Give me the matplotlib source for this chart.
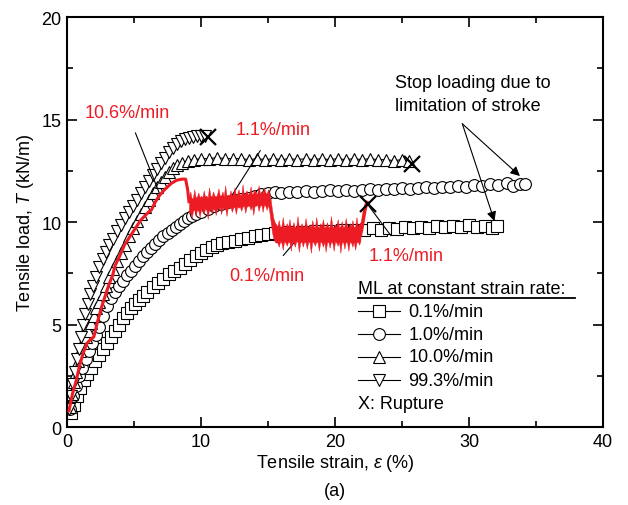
import numpy as np
import matplotlib
matplotlib.use("Agg")
import matplotlib.pyplot as plt
from matplotlib.ticker import MultipleLocator

plt.rcParams['font.family'] = ['Liberation Sans', 'DejaVu Sans']
plt.rcParams['mathtext.fontset'] = 'custom'
plt.rcParams['mathtext.it'] = 'Liberation Sans:italic'
plt.rcParams['mathtext.rm'] = 'Liberation Sans'

RED = '#ED1C24'

# ML at constant strain rate 0.1 %/min (squares)
sq_e = [0.3, 0.5, 0.75, 1.0, 1.25, 1.5, 1.8, 2.1, 2.4, 2.7, 3.0, 3.3, 3.6, 3.9, 4.2, 4.5,
        4.8, 5.1, 5.4, 5.7, 6.0, 6.4, 6.8, 7.2, 7.6, 8.0, 8.4, 8.8, 9.2, 9.6, 10.0, 10.4,
        10.8, 11.2, 11.6, 12.0, 12.5, 13.0, 13.5, 14.0, 14.5, 15.0, 15.5, 16.5, 17.5, 18.5,
        19.5, 20.5, 21.5, 22.2, 22.8, 23.4, 24.0, 24.6, 25.2, 25.8, 26.4, 27.0, 27.6, 28.2,
        28.8, 29.4, 30.0, 30.6, 31.2, 31.7, 32.1]
sq_T = [0.7, 1.1, 1.5, 1.9, 2.3, 2.6, 2.9, 3.2, 3.5, 3.8, 4.1, 4.4, 4.7, 5.0, 5.3, 5.55,
        5.8, 6.0, 6.2, 6.4, 6.6, 6.85, 7.05, 7.25, 7.45, 7.6, 7.75, 7.95, 8.15, 8.35, 8.5, 8.65,
        8.8, 8.9, 9.0, 9.05, 9.1, 9.2, 9.25, 9.3, 9.35, 9.4, 9.45, 9.5, 9.5, 9.55,
        9.55, 9.6, 9.6, 9.6, 9.7, 9.6, 9.7, 9.65, 9.75, 9.7, 9.75, 9.7, 9.8, 9.75,
        9.8, 9.75, 9.85, 9.75, 9.8, 9.7, 9.8]

# 1.0 %/min (circles)
ci_e = [0.25, 0.45, 0.65, 0.9, 1.15, 1.4, 1.65, 1.9, 2.15, 2.4, 2.7, 3.0, 3.3, 3.6, 3.9,
        4.2, 4.5, 4.8, 5.1, 5.4, 5.7, 6.0, 6.3, 6.6, 6.9, 7.2, 7.5, 7.8, 8.1, 8.4, 8.7,
        9.0, 9.3, 9.6, 10.0, 10.5, 11.0, 11.5, 12.0, 12.5, 13.0, 13.5, 14.0, 14.5, 15.0,
        15.5, 16.0, 16.6, 17.2, 17.8, 18.4, 19.0, 19.6, 20.2, 20.8, 21.4, 22.0, 22.6, 23.2,
        23.8, 24.4, 25.0, 25.6, 26.2, 26.8, 27.4, 28.0, 28.6, 29.2, 29.8, 30.4, 31.0, 31.6,
        32.2, 32.8, 33.3, 33.8, 34.2]
ci_T = [0.9, 1.5, 2.0, 2.5, 2.9, 3.3, 3.7, 4.1, 4.5, 4.9, 5.4, 5.9, 6.3, 6.6, 6.9,
        7.15, 7.4, 7.6, 7.85, 8.1, 8.35, 8.55, 8.75, 8.95, 9.15, 9.3, 9.45, 9.6, 9.75, 9.9, 10.05,
        10.2, 10.3, 10.4, 10.5, 10.65, 10.8, 10.9, 11.0, 11.1, 11.15, 11.2, 11.3, 11.35, 11.4,
        11.45, 11.4, 11.45, 11.45, 11.5, 11.45, 11.5, 11.55, 11.5, 11.55, 11.5, 11.55, 11.6, 11.55,
        11.6, 11.6, 11.65, 11.6, 11.65, 11.7, 11.65, 11.7, 11.7, 11.75, 11.7, 11.8, 11.75, 11.85,
        11.8, 11.9, 11.75, 11.85, 11.85]

# 10.0 %/min (up triangles)
tu_e = [0.2, 0.35, 0.5, 0.65, 0.8, 1.0, 1.2, 1.4, 1.6, 1.8, 2.0, 2.2, 2.4, 2.65, 2.9,
        3.15, 3.4, 3.7, 4.0, 4.3, 4.6, 4.9, 5.2, 5.5, 5.8, 6.1, 6.4, 6.7, 7.0, 7.3, 7.6,
        7.9, 8.2, 8.6, 9.0, 9.5, 10.0, 10.6, 11.2, 11.8, 12.4, 13.0, 13.6, 14.2, 14.8, 15.4,
        16.0, 16.6, 17.2, 17.8, 18.4, 19.0, 19.6, 20.2, 20.8, 21.4, 22.0, 22.6, 23.2, 23.8,
        24.4, 25.0, 25.5]
tu_T = [1.0, 1.6, 2.2, 2.7, 3.2, 3.7, 4.1, 4.4, 4.7, 5.1, 5.4, 5.8, 6.1, 6.5, 6.9,
        7.3, 7.7, 8.1, 8.5, 8.9, 9.3, 9.7, 10.05, 10.4, 10.75, 11.1, 11.4, 11.7, 11.95, 12.2, 12.45,
        12.65, 12.8, 12.9, 13.0, 13.05, 13.1, 13.1, 13.15, 13.1, 13.1, 13.1, 13.05, 13.1, 13.05, 13.1,
        13.05, 13.1, 13.05, 13.1, 13.05, 13.1, 13.05, 13.1, 13.05, 13.1, 13.05, 13.1, 13.05, 13.05,
        13.0, 13.05, 13.0]

# 99.3 %/min (down triangles)
td_e = [0.15, 0.3, 0.45, 0.6, 0.75, 0.9, 1.05, 1.2, 1.35, 1.55, 1.75, 1.95, 2.15, 2.4,
        2.65, 2.9, 3.15, 3.4, 3.7, 4.0, 4.3, 4.6, 4.9, 5.2, 5.5, 5.8, 6.1, 6.4, 6.7, 7.0,
        7.3, 7.6, 7.9, 8.2, 8.5, 8.8, 9.1, 9.4, 9.7, 10.0, 10.3]
td_T = [0.9, 1.5, 2.1, 2.7, 3.3, 3.8, 4.4, 5.0, 5.5, 6.0, 6.5, 6.9, 7.3, 7.8,
        8.2, 8.55, 8.9, 9.2, 9.55, 9.85, 10.2, 10.5, 10.8, 11.1, 11.4, 11.7, 12.0, 12.3, 12.6, 12.9,
        13.15, 13.4, 13.6, 13.8, 13.95, 14.05, 14.1, 14.15, 14.2, 14.2, 14.2]

# multi-stage loading (red): smooth parts
red_e1 = [0.15, 0.4, 0.7, 0.9, 1.2, 1.5, 1.8, 2.0, 2.3, 2.6, 2.9, 3.1, 3.4, 3.6, 3.9,
          4.3, 4.7, 5.1, 5.5, 5.8, 6.1, 6.3, 6.6, 6.9, 7.3, 7.8, 8.2, 8.6, 8.85, 9.0, 9.1]
red_T1 = [0.8, 1.6, 2.3, 2.9, 3.6, 4.1, 4.3, 4.4, 5.2, 5.9, 6.5, 6.9, 7.4, 7.9, 8.3,
          8.9, 9.3, 9.7, 10.1, 10.3, 10.5, 10.6, 11.0, 11.3, 11.6, 11.9, 12.05, 12.1, 12.1, 11.6, 11.0]
red_e2 = [21.9, 22.0, 22.1, 22.2, 22.3, 22.4]
red_T2 = [9.4, 9.7, 10.1, 10.5, 10.8, 10.95]

# noisy parts (1.1 %/min then 0.1 %/min stage): envelope of the scatter
band_e = [9.1, 9.2, 9.3, 9.4, 9.5, 9.6, 9.7, 9.8, 9.9, 10.0,
          10.1, 10.2, 10.3, 10.4, 10.5, 10.6, 10.7, 10.8, 10.9, 11.0,
          11.1, 11.2, 11.3, 11.4, 11.5, 11.6, 11.7, 11.8, 11.9, 12.0,
          12.1, 12.2, 12.3, 12.4, 12.5, 12.6, 12.7, 12.8, 12.9, 13.0,
          13.1, 13.2, 13.3, 13.4, 13.5, 13.6, 13.7, 13.8, 13.9, 14.0,
          14.1, 14.2, 14.3, 14.4, 14.5, 14.6, 14.7, 14.8, 14.9, 15.0,
          15.1, 15.2, 15.3, 15.4, 15.5, 15.6,
          15.7, 15.8, 15.9, 16.0, 16.1, 16.2, 16.3, 16.4, 16.5, 16.6,
          16.7, 16.8, 16.9, 17.0, 17.1, 17.2, 17.3, 17.4, 17.5, 17.6,
          17.7, 17.8, 17.9, 18.0, 18.1, 18.2, 18.3, 18.4, 18.5, 18.6,
          18.7, 18.8, 18.9, 19.0, 19.1, 19.2, 19.3, 19.4, 19.5, 19.6,
          19.7, 19.8, 19.9, 20.0, 20.1, 20.2, 20.3, 20.4, 20.5, 20.6,
          20.7, 20.8, 20.9, 21.0, 21.1, 21.2, 21.3, 21.4, 21.5, 21.6,
          21.7, 21.8, 21.9]
band_hi = [11.2, 11.5, 11.15, 11.2, 11.6, 11.2, 11.25, 11.45, 11.2, 11.3,
           11.2, 11.55, 11.25, 11.3, 11.2, 11.7, 11.3, 11.25, 11.5, 11.3,
           11.25, 11.35, 11.65, 11.3, 11.3, 11.5, 11.25, 11.8, 11.3, 11.35,
           11.3, 11.55, 11.3, 11.35, 11.7, 11.3, 11.4, 11.6, 11.35, 11.3,
           11.85, 11.35, 11.4, 11.55, 11.35, 11.4, 11.75, 11.35, 11.45, 11.6,
           11.4, 11.4, 11.8, 11.4, 11.5, 11.4, 11.7, 11.45, 11.4, 11.6,
           11.4, 11.1, 10.6, 10.2, 10.0, 9.9,
           9.8, 10.1, 9.75, 9.8, 10.25, 9.75, 9.8, 9.95, 9.75, 10.15,
           9.75, 9.8, 10.0, 9.75, 9.75, 10.3, 9.8, 9.75, 9.95, 9.8,
           9.75, 10.2, 9.8, 9.75, 9.9, 9.75, 10.1, 9.8, 9.75, 10.25,
           9.8, 9.75, 9.95, 9.8, 10.15, 9.75, 9.8, 10.0, 9.75, 9.8,
           10.3, 9.8, 9.75, 9.9, 9.8, 10.15, 9.75, 9.8, 10.05, 9.75,
           9.8, 10.2, 9.8, 9.75, 9.95, 9.8, 10.1, 9.75, 9.8, 10.25,
           9.8, 9.9, 10.0]
band_lo = [10.4, 10.5, 10.2, 10.55, 10.6, 10.3, 10.6, 10.55, 10.25, 10.6,
           10.6, 10.4, 10.65, 10.6, 10.15, 10.65, 10.6, 10.45, 10.65, 10.6,
           10.35, 10.7, 10.65, 10.7, 10.4, 10.7, 10.65, 10.7, 10.3, 10.7,
           10.7, 10.75, 10.5, 10.7, 10.75, 10.4, 10.75, 10.7, 10.75, 10.55,
           10.75, 10.8, 10.45, 10.75, 10.8, 10.8, 10.6, 10.8, 10.35, 10.8,
           10.8, 10.85, 10.55, 10.8, 10.85, 10.5, 10.85, 10.8, 10.6, 10.85,
           10.5, 10.0, 9.5, 9.2, 9.05, 9.0,
           9.0, 8.8, 9.05, 9.0, 8.65, 9.05, 9.0, 8.85, 9.05, 9.0,
           8.6, 9.05, 9.0, 8.8, 9.05, 9.05, 8.55, 9.0, 9.05, 8.8,
           9.05, 9.0, 8.7, 9.05, 9.0, 8.5, 9.05, 9.0, 8.85, 9.05,
           9.0, 8.6, 9.05, 9.0, 8.8, 9.05, 8.55, 9.0, 9.05, 8.75,
           9.05, 9.0, 8.6, 9.05, 9.0, 8.85, 9.05, 8.5, 9.0, 9.05,
           8.7, 9.05, 9.0, 8.6, 9.05, 9.0, 8.8, 9.05, 8.65, 9.0,
           9.05, 8.9, 9.1]

# ruptures
rup_e = [10.55, 25.75, 22.45]
rup_T = [14.15, 12.85, 10.9]

fig = plt.figure(figsize=(6.28, 5.06), dpi=100)
ax = fig.add_axes([0.1067, 0.154, 0.8535, 0.810])

mk = dict(color='black', lw=0.8, mfc='white', mec='black', mew=0.8, ms=8.5)
ax.plot(sq_e, sq_T, marker='s', **mk)
ax.plot(ci_e, ci_T, marker='o', **mk)
ax.plot(tu_e, tu_T, marker='^', **mk)
ax.plot(td_e, td_T, marker='v', **mk)

ax.plot(red_e1, red_T1, color=RED, lw=2.2, zorder=4)
ax.fill_between(band_e, band_lo, band_hi, color=RED, lw=0.3, zorder=4)
ax.plot(red_e2, red_T2, color=RED, lw=2.6, zorder=4)

ax.plot(rup_e, rup_T, ls='none', marker='x', color='black', ms=11, mew=1.6, zorder=5)

# annotations
line = dict(arrowstyle='-', color='black', lw=0.8)
ax.annotate('10.6%/min', xy=(6.9, 11.4), xytext=(4.5, 15.35), color=RED, fontsize=13,
            ha='center', va='center', arrowprops=dict(line, shrinkA=7, shrinkB=0))
ax.annotate('1.1%/min', xy=(12.3, 11.3), xytext=(15.4, 14.5), color=RED, fontsize=13,
            ha='center', va='center', arrowprops=dict(line, shrinkA=8, shrinkB=0))
ax.annotate('0.1%/min', xy=(17.2, 9.2), xytext=(14.9, 7.4), color=RED, fontsize=13,
            ha='center', va='center', arrowprops=dict(line, shrinkA=8, shrinkB=0))
ax.annotate('1.1%/min', xy=(22.4, 10.9), xytext=(25.3, 8.35), color=RED, fontsize=13,
            ha='center', va='center', arrowprops=dict(line, shrinkA=8, shrinkB=0))

arrow = dict(arrowstyle='-|>', color='black', lw=0.8, mutation_scale=14, shrinkA=0, shrinkB=0)
ax.text(24.5, 16.25, 'Stop loading due to\nlimitation of stroke', fontsize=13,
        ha='left', va='center', linespacing=1.45)
ax.annotate('', xy=(33.8, 12.25), xytext=(29.5, 14.8), arrowprops=arrow)
ax.annotate('', xy=(31.9, 10.05), xytext=(29.5, 14.8), arrowprops=arrow)

# legend drawn by hand
tr = ax.transAxes
ax.text(0.543, 0.337, 'ML at constant strain rate:', transform=tr, fontsize=13,
        ha='left', va='center')
ax.plot([0.543, 0.948], [0.316, 0.316], transform=tr, color='black', lw=1.3, clip_on=False)
labels = ['0.1%/min', '1.0%/min', '10.0%/min', '99.3%/min']
markers = ['s', 'o', '^', 'v']
rows = [0.283, 0.227, 0.171, 0.114]
for lab, m, yy in zip(labels, markers, rows):
    ax.plot([0.543, 0.621], [yy, yy], transform=tr, color='black', lw=0.8)
    ax.plot([0.582], [yy], transform=tr, marker=m, ls='none', mfc='white', mec='black',
            mew=0.8, ms=8.5)
    ax.text(0.637, yy, lab, transform=tr, fontsize=13, ha='left', va='center')
ax.text(0.543, 0.058, 'X: Rupture', transform=tr, fontsize=13, ha='left', va='center')

ax.set_xlim(0, 40)
ax.set_ylim(0, 20)
ax.xaxis.set_major_locator(MultipleLocator(10))
ax.xaxis.set_minor_locator(MultipleLocator(5))
ax.yaxis.set_major_locator(MultipleLocator(5))
ax.yaxis.set_minor_locator(MultipleLocator(2.5))
ax.tick_params(which='both', direction='in', top=True, right=True, labelsize=13, width=1.2)
ax.tick_params(which='major', length=7, pad=4)
ax.tick_params(which='minor', length=4)
for s in ax.spines.values():
    s.set_linewidth(1.5)

ax.set_xlabel(r'Tensile strain, $\varepsilon$ (%)', fontsize=13, labelpad=2)
ax.set_ylabel(r'Tensile load, $T$ (kN/m)', fontsize=13, labelpad=4)
fig.text(0.533, 0.028, '(a)', fontsize=13, ha='center', va='center')

fig.savefig('out.png', dpi=100)
